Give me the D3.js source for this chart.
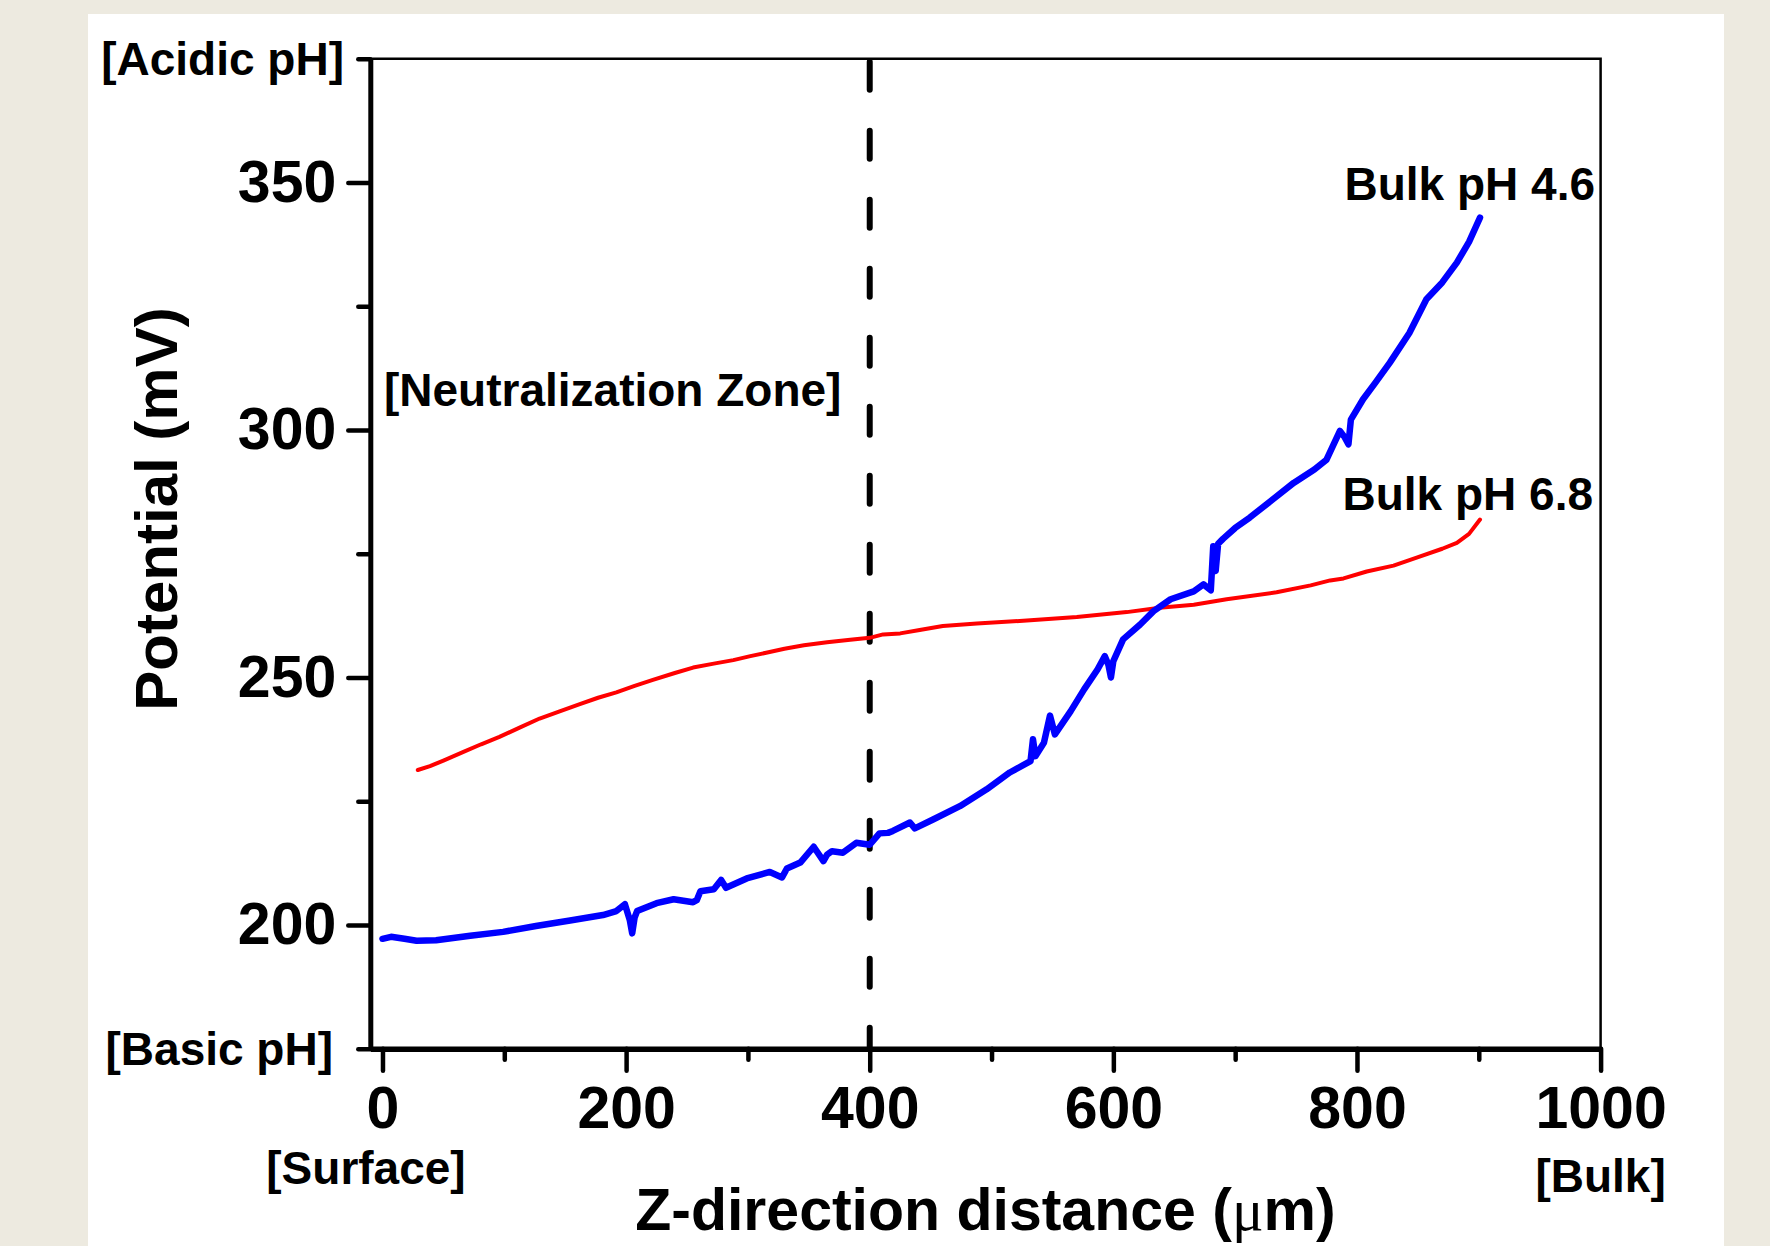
<!DOCTYPE html>
<html>
<head>
<meta charset="utf-8">
<script src="https://cdn.jsdelivr.net/npm/d3@7"></script>
<style>
  body { margin: 0; background: #edeae0; }
  text { font-family: "Liberation Sans", Arial, sans-serif; font-weight: bold; fill: #000; }
</style>
</head>
<body>
<svg id="chart" width="1770" height="1246"></svg>
<script>
// axis ticks
var xMajor = [0, 200, 400, 600, 800, 1000];
var xMinor = [100, 300, 500, 700, 900];
var yMajor = [200, 250, 300, 350];
var yMinor = [175, 225, 275, 325, 375];
var zoneX = 400;

// Bulk pH 4.6 (blue)
var dist46 = [0, 7, 18, 28, 44, 72, 99, 126, 154, 181, 192, 199, 203, 205, 207, 209, 225, 239, 255, 258,
  261, 272, 278, 282, 299, 318, 328, 332, 343, 354, 362, 365, 369, 378, 389, 400, 408, 415, 419, 433,
  437, 452, 474, 496, 515, 532, 534, 536, 543, 548, 552, 565, 576, 587, 593, 596, 598, 600, 608, 622,
  633, 647, 666, 674, 680, 682, 684, 686, 690, 700, 712, 730, 748, 765, 775, 786, 790, 793, 795, 805,
  815, 827, 843, 857, 870, 882, 892, 901];
var pot46 = [197.2, 197.6, 197.2, 196.8, 196.9, 197.8, 198.6, 199.8, 200.9, 202.0, 202.8, 204.2, 201.0, 198.3, 201.5, 202.8, 204.4, 205.2, 204.6, 205.0,
  206.8, 207.2, 209.1, 207.5, 209.4, 210.7, 209.6, 211.4, 212.6, 215.8, 212.9, 214.2, 214.9, 214.6, 216.6, 216.2, 218.5, 218.6, 219.0, 220.7,
  219.5, 221.3, 224.0, 227.4, 230.8, 233.1, 237.5, 234.1, 236.8, 242.3, 238.5, 243.2, 247.6, 251.6, 254.3, 252.5, 250.0, 253.3, 257.7, 260.7,
  263.4, 265.8, 267.4, 268.8, 267.6, 276.5, 271.5, 277.0, 278.0, 280.2, 282.3, 285.8, 289.3, 292.0, 294.0, 299.8, 298.5, 297.1, 302.1, 306.2,
  309.5, 313.6, 319.6, 326.4, 329.8, 333.8, 338.0, 342.9];

// Bulk pH 6.8 (red)
var dist68 = [29, 39, 50, 66, 81, 96, 113, 129, 146, 162, 177, 192, 207, 222, 240, 255, 272, 288, 302, 315,
  330, 346, 365, 384, 400, 411, 425, 441, 460, 488, 529, 570, 611, 638, 666, 693, 734, 762, 778, 789,
  808, 830, 849, 870, 882, 892, 901];
var pot68 = [231.3, 232.1, 233.2, 234.9, 236.5, 238.0, 239.9, 241.7, 243.2, 244.6, 245.9, 247.0, 248.3, 249.5, 250.9, 252.0, 252.8, 253.5, 254.3, 255.0,
  255.8, 256.5, 257.1, 257.6, 258.0, 258.7, 258.9, 259.6, 260.4, 260.9, 261.5, 262.2, 263.2, 264.1, 264.7, 265.8, 267.2, 268.6, 269.6, 270.0,
  271.4, 272.6, 274.2, 276.0, 277.2, 279.0, 281.9];

var svg = d3.select('#chart');

var plotL = 370.3, plotR = 1600.6, plotT = 58.7, plotB = 1048.7;

var x = d3.scaleLinear().domain([-10, 1000]).range([plotL, plotR]);
var y = d3.scaleLinear().domain([175, 375]).range([plotB, plotT]);

// page panel
svg.append('rect').attr('x', 0).attr('y', 0).attr('width', 1770).attr('height', 1246).attr('fill', '#edeae0');
svg.append('rect').attr('x', 88).attr('y', 14).attr('width', 1636).attr('height', 1240).attr('fill', '#ffffff');

// top and right frame
svg.append('path')
   .attr('d', 'M' + plotL + ',' + plotT + 'H' + plotR + 'V' + plotB)
   .attr('fill', 'none').attr('stroke', '#000').attr('stroke-width', 2.5);

// neutralization zone boundary
svg.append('line')
   .attr('x1', x(zoneX)).attr('x2', x(zoneX))
   .attr('y1', plotT + 3).attr('y2', plotB)
   .attr('stroke', '#000').attr('stroke-width', 6)
   .attr('stroke-linecap', 'round')
   .attr('stroke-dasharray', '28,41');

var line = d3.line()
   .x(d => x(d[0]))
   .y(d => y(d[1]));

svg.append('path')
   .datum(dist68.map((d, i) => [d, pot68[i]]))
   .attr('d', line)
   .attr('fill', 'none').attr('stroke', '#ff0000').attr('stroke-width', 4)
   .attr('stroke-linejoin', 'round').attr('stroke-linecap', 'round');

svg.append('path')
   .datum(dist46.map((d, i) => [d, pot46[i]]))
   .attr('d', line)
   .attr('fill', 'none').attr('stroke', '#0000ff').attr('stroke-width', 6.5)
   .attr('stroke-linejoin', 'round').attr('stroke-linecap', 'round');

// axes
var styleAxis = (g, w) => {
  g.select('.domain').attr('stroke-width', w).attr('stroke', '#000');
  g.selectAll('.tick line').attr('stroke-width', 4.5).attr('stroke-linecap', 'round').attr('stroke', '#000');
  g.selectAll('.tick text').attr('font-size', 59).attr('fill', '#000')
   .attr('font-family', '"Liberation Sans", Arial, sans-serif').attr('font-weight', 'bold');
};

svg.append('g')
   .attr('transform', 'translate(0,' + plotB + ')')
   .call(d3.axisBottom(x).tickValues(xMinor).tickSize(11).tickSizeOuter(0).tickFormat(''))
   .call(g => styleAxis(g, 5.5));
svg.append('g')
   .attr('transform', 'translate(0,' + plotB + ')')
   .call(d3.axisBottom(x).tickValues(xMajor).tickSize(22).tickPadding(15).tickSizeOuter(0).tickFormat(d3.format('d')))
   .call(g => { g.select('.domain').remove(); styleAxis(g, 5.5); });

svg.append('g')
   .attr('transform', 'translate(' + plotL + ',0)')
   .call(d3.axisLeft(y).tickValues(yMinor).tickSize(12).tickSizeOuter(0).tickFormat(''))
   .call(g => styleAxis(g, 5));
svg.append('g')
   .attr('transform', 'translate(' + plotL + ',0)')
   .call(d3.axisLeft(y).tickValues(yMajor).tickSize(22).tickPadding(12).tickSizeOuter(0).tickFormat(d3.format('d')))
   .call(g => { g.select('.domain').remove(); styleAxis(g, 5); });

// annotations
var label = (t, px, py, anchor, size) => svg.append('text')
   .attr('x', px).attr('y', py).attr('text-anchor', anchor).attr('font-size', size).text(t);

label('[Acidic pH]', 344, y(375) + 16, 'end', 46);
label('[Basic pH]', 333, y(175) + 16, 'end', 46);
label('[Surface]', 366, 1184, 'middle', 46);
label('[Bulk]', x(1000), 1192, 'middle', 46);
label('[Neutralization Zone]', 384, 406, 'start', 46);
label('Bulk pH 4.6', 1595, 200, 'end', 46);
label('Bulk pH 6.8', 1593, 510, 'end', 46);

var xt = label('Z-direction distance (', (plotL + plotR) / 2, 1230, 'middle', 59);
xt.append('tspan').attr('font-family', '"Liberation Serif", serif').attr('font-weight', 'normal').text('\u03bc');
xt.append('tspan').text('m)');

svg.append('text')
   .attr('transform', 'translate(177,509) rotate(-90)')
   .attr('text-anchor', 'middle').attr('font-size', 60)
   .text('Potential (mV)');
</script>
</body>
</html>
